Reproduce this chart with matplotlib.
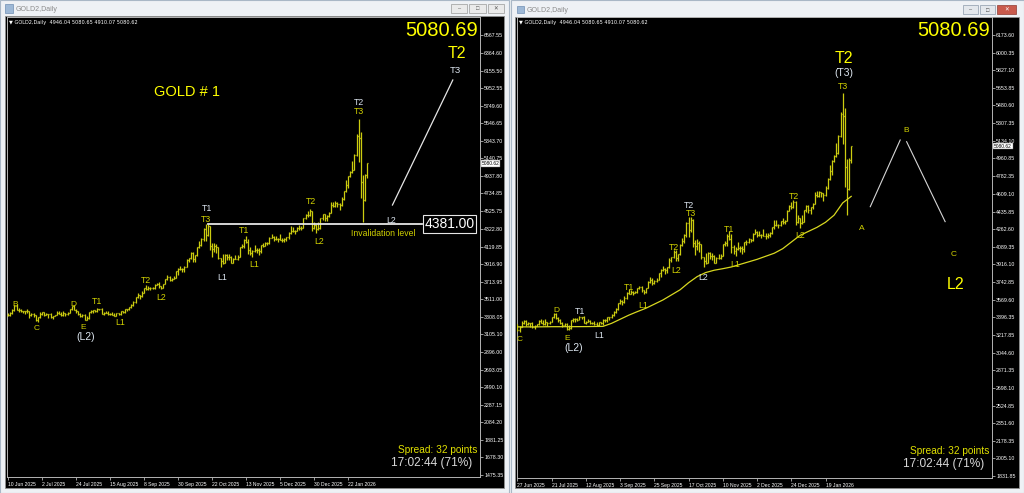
import numpy as np
import matplotlib
matplotlib.use('Agg')
import matplotlib.pyplot as plt
from matplotlib.patches import Rectangle
import matplotlib.transforms as mtrans

plt.rcParams['font.family'] = ['Liberation Sans', 'DejaVu Sans']

# ---------------- data (daily bars, 10 Jun 2025 .. 4 Feb 2026) ----------------
opens = [3326, 3322, 3355, 3386, 3432, 3385, 3388, 3370, 3370, 3368,
         3368, 3323, 3333, 3328, 3274, 3303, 3338, 3357, 3326, 3336,
         3336, 3301, 3313, 3324, 3355, 3343, 3324, 3347, 3339, 3350,
         3397, 3431, 3387, 3368, 3337, 3314, 3326, 3275, 3289, 3363,
         3373, 3381, 3369, 3397, 3398, 3342, 3348, 3356, 3335, 3336,
         3332, 3316, 3348, 3338, 3371, 3365, 3393, 3396, 3416, 3448,
         3476, 3533, 3559, 3545, 3586, 3636, 3626, 3640, 3634, 3643,
         3679, 3690, 3659, 3644, 3685, 3746, 3764, 3736, 3749, 3760,
         3833, 3858, 3865, 3857, 3887, 3960, 3985, 4040, 3975, 4017,
         4110, 4142, 4208, 4326, 4250, 4356, 4125, 4095, 4126, 4112,
         3987, 3953, 3930, 4025, 4002, 4000, 3932, 3980, 3977, 4001,
         4115, 4127, 4195, 4170, 4085, 4045, 4067, 4078, 4077, 4065,
         4135, 4131, 4164, 4156, 4218, 4232, 4205, 4202, 4208, 4198,
         4190, 4208, 4229, 4280, 4300, 4305, 4303, 4339, 4332, 4339,
         4445, 4490, 4480, 4532, 4332, 4370, 4320, 4330, 4450, 4495,
         4455, 4478, 4510, 4597, 4587, 4625, 4615, 4595, 4670, 4760,
         4835, 4935, 4985, 5010, 5180, 5400, 5380, 4870, 4660, 4946.04]
highs = [3349, 3360, 3398, 3446, 3451, 3403, 3398, 3379, 3374, 3398,
         3372, 3347, 3350, 3329, 3309, 3358, 3365, 3366, 3345, 3343,
         3346, 3317, 3331, 3369, 3375, 3366, 3377, 3352, 3361, 3402,
         3433, 3439, 3394, 3374, 3345, 3334, 3334, 3315, 3363, 3385,
         3390, 3385, 3409, 3400, 3404, 3358, 3374, 3369, 3346, 3358,
         3345, 3350, 3351, 3379, 3376, 3393, 3398, 3423, 3454, 3490,
         3540, 3578, 3563, 3600, 3641, 3674, 3659, 3650, 3655, 3685,
         3703, 3707, 3667, 3687, 3749, 3791, 3779, 3761, 3783, 3834,
         3871, 3895, 3875, 3889, 3977, 3990, 4059, 4059, 4022, 4116,
         4179, 4218, 4330, 4379, 4381, 4359, 4160, 4161, 4147, 4112,
         3990, 4030, 4034, 4034, 4030, 4012, 3990, 4020, 4020, 4117,
         4149, 4212, 4245, 4211, 4110, 4082, 4132, 4100, 4098, 4140,
         4156, 4175, 4170, 4225, 4264, 4240, 4240, 4216, 4260, 4220,
         4220, 4235, 4286, 4353, 4350, 4315, 4345, 4370, 4355, 4450,
         4497, 4526, 4550, 4535, 4400, 4375, 4402, 4455, 4500, 4500,
         4480, 4518, 4630, 4635, 4642, 4630, 4620, 4690, 4765, 4890,
         4940, 4990, 5110, 5190, 5420, 5600, 5450, 4950, 4960, 5080.65]
lows = [3315, 3316, 3339, 3378, 3381, 3366, 3362, 3347, 3340, 3347,
        3295, 3312, 3308, 3255, 3247, 3298, 3328, 3311, 3323, 3296,
        3287, 3282, 3310, 3322, 3341, 3321, 3319, 3310, 3332, 3345,
        3383, 3381, 3351, 3325, 3301, 3308, 3268, 3270, 3281, 3347,
        3353, 3358, 3366, 3381, 3341, 3331, 3345, 3331, 3330, 3323,
        3311, 3312, 3324, 3322, 3352, 3351, 3370, 3386, 3403, 3436,
        3470, 3527, 3511, 3533, 3578, 3620, 3620, 3613, 3632, 3632,
        3670, 3645, 3628, 3634, 3683, 3733, 3717, 3722, 3741, 3757,
        3793, 3850, 3820, 3830, 3884, 3939, 3980, 3945, 3944, 4008,
        4097, 4130, 4185, 4186, 4236, 4082, 4004, 4059, 4042, 3971,
        3886, 3916, 3929, 3967, 3962, 3930, 3928, 3970, 3968, 3995,
        4100, 4100, 4156, 4032, 4020, 3997, 4055, 4040, 4022, 4040,
        4110, 4125, 4140, 4148, 4213, 4180, 4190, 4175, 4195, 4170,
        4175, 4180, 4210, 4265, 4290, 4270, 4295, 4310, 4310, 4338,
        4440, 4460, 4475, 4305, 4320, 4275, 4312, 4328, 4430, 4420,
        4410, 4460, 4505, 4575, 4580, 4580, 4540, 4590, 4660, 4745,
        4800, 4920, 4970, 5000, 5170, 5100, 4680, 4403, 4650, 4910.07]
closes = [3322, 3355, 3386, 3432, 3385, 3388, 3370, 3370, 3368, 3368,
          3323, 3333, 3328, 3274, 3303, 3338, 3357, 3326, 3336, 3336,
          3301, 3313, 3324, 3355, 3343, 3324, 3347, 3339, 3350, 3397,
          3431, 3387, 3368, 3337, 3314, 3326, 3275, 3289, 3363, 3373,
          3381, 3369, 3397, 3398, 3342, 3348, 3356, 3335, 3336, 3332,
          3316, 3348, 3338, 3371, 3365, 3393, 3396, 3416, 3448, 3476,
          3533, 3559, 3545, 3586, 3636, 3626, 3640, 3634, 3643, 3679,
          3690, 3659, 3644, 3685, 3746, 3764, 3736, 3749, 3760, 3833,
          3858, 3865, 3857, 3887, 3960, 3985, 4040, 3975, 4017, 4110,
          4142, 4208, 4326, 4250, 4356, 4125, 4095, 4126, 4112, 3987,
          3953, 3930, 4025, 4002, 4000, 3932, 3980, 3977, 4001, 4115,
          4127, 4195, 4170, 4085, 4045, 4067, 4078, 4077, 4065, 4135,
          4131, 4164, 4156, 4218, 4232, 4205, 4202, 4208, 4198, 4190,
          4208, 4229, 4280, 4300, 4305, 4303, 4339, 4332, 4339, 4445,
          4490, 4480, 4532, 4332, 4370, 4320, 4330, 4450, 4495, 4455,
          4478, 4510, 4597, 4587, 4625, 4615, 4595, 4670, 4760, 4835,
          4935, 4985, 5010, 5180, 5400, 5380, 4870, 4660, 4946, 5080.62]

# moving average shown on the right chart
ma_idx = [13, 21, 29, 37, 45, 53, 57, 61, 65, 69, 73, 77, 81, 85, 89, 93, 97,
          101, 105, 109, 113, 117, 121, 125, 129, 133, 137, 141, 145, 149,
          153, 157, 161, 165, 169]
ma_val = [3300, 3300, 3302, 3302, 3303, 3305, 3335, 3375, 3415, 3450, 3483,
          3524, 3565, 3615, 3665, 3735, 3795, 3835, 3858, 3873, 3890, 3915,
          3940, 3965, 3995, 4025, 4070, 4135, 4200, 4240, 4280, 4330, 4400,
          4520, 4585]

left_xtick_idx = [0, 16, 32, 48, 64, 80, 96, 112, 128, 144, 160]
left_xtick_lbl = ['10 Jun 2025', '2 Jul 2025', '24 Jul 2025', '15 Aug 2025',
                  '8 Sep 2025', '30 Sep 2025', '22 Oct 2025', '13 Nov 2025',
                  '5 Dec 2025', '30 Dec 2025', '22 Jan 2026']
right_xtick_idx = [13, 29, 45, 61, 77, 93, 109, 125, 141, 157]
right_xtick_lbl = ['27 Jun 2025', '21 Jul 2025', '12 Aug 2025', '3 Sep 2025',
                   '25 Sep 2025', '17 Oct 2025', '10 Nov 2025', '2 Dec 2025',
                   '24 Dec 2025', '19 Jan 2026']
left_yticks = [6567.55, 6364.60, 6155.50, 5952.55, 5749.60, 5546.65, 5343.70,
               5140.75, 4937.80, 4734.85, 4525.75, 4322.80, 4119.85, 3916.90,
               3713.95, 3511.00, 3308.05, 3105.10, 2896.00, 2693.05, 2490.10,
               2287.15, 2084.20, 1881.25, 1678.30, 1475.35]
right_yticks = [6173.60, 6000.35, 5827.10, 5653.85, 5480.60, 5307.35, 5134.10,
                4960.85, 4782.35, 4609.10, 4435.85, 4262.60, 4089.35, 3916.10,
                3742.85, 3569.60, 3396.35, 3217.85, 3044.60, 2871.35, 2698.10,
                2524.85, 2351.60, 2178.35, 2005.10, 1831.85]

bid_price = '5080.69'
last_close = 5080.62
header = 'GOLD2,Daily  4946.04 5080.65 4910.07 5080.62'
invalidation = 4381.00
invalidation_start = 94

# projected paths (bar index, price)
left_proj_x = [180.9, 209.3]
left_proj_y = [4600, 6047]
right_proj_x = [[177.9, 191.9], [194.9, 212.9]]
right_proj_y = [[4483, 5140], [5123, 4336]]

Y = '#d2d200'
WT = '#dde6f0'
BY = '#ffff00'
left_labels = [
    ('B', 3.3, 3454, Y, 6), ('C', 13.5, 3173, Y, 6), ('D', 30.7, 3454, Y, 6),
    ('T1', 41.7, 3481, Y, 6.3), ('E', 35.4, 3185, Y, 6), ('(L2)', 36.7, 3076, WT, 7.5),
    ('L1', 52.7, 3243, Y, 6.3), ('T2', 64.9, 3732, Y, 6.3), ('L2', 71.8, 3532, Y, 6.3),
    ('T1', 93.5, 4562, WT, 6.3), ('T3', 93.0, 4438, Y, 6.3), ('L1', 100.8, 3763, WT, 6.3),
    ('T1', 111.2, 4303, Y, 6.3), ('L1', 115.9, 3906, Y, 6.3), ('T2', 142.4, 4638, Y, 6.3),
    ('L2', 146.2, 4175, Y, 6.3), ('T2', 165.1, 5784, WT, 6.3), ('T3', 165.3, 5688, Y, 6.3),
    ('L2', 180.2, 4426, WT, 6.3), ('Invalidation level', 176.6, 4273, Y, 6.2),
    ('T3', 210.3, 6157, WT, 6.8), ('T2', 211.0, 6359, BY, 11.5),
    ('GOLD # 1', 84.0, 5908, BY, 10.5),
]
right_labels = [
    ('C', 14.0, 3171, Y, 6), ('D', 31.1, 3459, Y, 6), ('T1', 42.1, 3450, WT, 6.3),
    ('E', 36.1, 3188, Y, 6), ('(L2)', 39.2, 3089, WT, 7.5), ('L1', 51.1, 3220, WT, 6.3),
    ('T1', 65.1, 3690, Y, 6.3), ('L1', 72.0, 3515, Y, 6.3), ('T2', 86.1, 4080, Y, 6.3),
    ('L2', 87.2, 3860, Y, 6.3), ('T2', 93.1, 4493, WT, 6.3), ('T3', 94.2, 4418, Y, 6.3),
    ('L2', 100.0, 3788, WT, 6.3), ('T1', 112.1, 4254, Y, 6.3), ('L1', 114.8, 3916, Y, 6.3),
    ('T2', 142.2, 4582, Y, 6.3), ('L2', 144.9, 4195, Y, 6.3), ('T3', 165.1, 5671, Y, 6.3),
    ('(T3)', 165.6, 5800, WT, 7.5), ('T2', 165.6, 5947, BY, 11.5),
    ('A', 174.0, 4271, Y, 6), ('B', 194.9, 5238, Y, 6), ('C', 216.8, 4011, Y, 6),
    ('L2', 217.7, 3715, BY, 11.5),
]

# ---------------- figure ----------------
W, H = 1024, 493
fig = plt.figure(figsize=(W / 100, H / 100), dpi=100)
fig.patch.set_facecolor('#e9edf1')


def box(x0, y0, x1, y1, fc, ec='none', lw=0.0, z=-5):
    fig.add_artist(Rectangle((x0 / W, 1 - y1 / H), (x1 - x0) / W, (y1 - y0) / H,
                             transform=fig.transFigure, facecolor=fc,
                             edgecolor=ec, linewidth=lw, zorder=z))


# window frames
box(0, 0, 509, 493, '#eef1f5', ec='#a9b7c6', lw=0.8, z=-6)
box(511, 0, 1024, 493, '#eef1f5', ec='#a9b7c6', lw=0.8, z=-6)
# icons and titles
box(5, 4, 13, 13, '#9db8d6', ec='#6f8fb3', lw=0.5, z=-4)
box(517, 6, 524, 13, '#9db8d6', ec='#6f8fb3', lw=0.5, z=-4)
fig.text(16 / W, 1 - 9.5 / H, 'GOLD2,Daily', fontsize=5, color='#8a8a8a', va='center')
fig.text(527 / W, 1 - 10 / H, 'GOLD2,Daily', fontsize=5, color='#8a8a8a', va='center')
# buttons
for (x0, x1) in [(451, 467), (469, 486), (488, 504)]:
    box(x0, 4, x1, 13, '#eaeaea', ec='#9a9a9a', lw=0.5, z=-4)
for (x0, x1) in [(963, 978), (980, 995)]:
    box(x0, 5, x1, 14, '#e3e7ec', ec='#8c9aab', lw=0.5, z=-4)
box(997, 5, 1016, 14, '#c95a4c', ec='#8e3a30', lw=0.5, z=-4)
fig.text(459 / W, 1 - 9 / H, '–', fontsize=4, color='#555555', ha='center', va='center')
fig.text(477.5 / W, 1 - 9 / H, '□', fontsize=4, color='#555555', ha='center', va='center')
fig.text(496 / W, 1 - 9 / H, '✕', fontsize=4, color='#555555', ha='center', va='center',
         family=['DejaVu Sans'])
fig.text(970.5 / W, 1 - 10 / H, '–', fontsize=4, color='#444444', ha='center', va='center')
fig.text(987.5 / W, 1 - 10 / H, '□', fontsize=4, color='#444444', ha='center', va='center')
fig.text(1006.5 / W, 1 - 10 / H, '✕', fontsize=4, color='white', ha='center', va='center',
         family=['DejaVu Sans'])

# black chart areas
box(5, 16, 504, 488, 'black', ec='#8f8f8f', lw=0.6, z=-3)
box(515, 17, 1019, 488, 'black', ec='#8f8f8f', lw=0.6, z=-3)

BAR = '#cccc10'
n = len(closes)
xi = np.arange(n)


def setup(ax, xlim, ylim, yt, xt, xl):
    ax.set_facecolor('black')
    ax.set_xlim(*xlim)
    ax.set_ylim(*ylim)
    for s in ax.spines.values():
        s.set_color('#b4b4b4')
        s.set_linewidth(0.7)
    ax.yaxis.tick_right()
    ax.set_yticks(yt)
    ax.set_yticklabels(['%.2f' % v for v in yt])
    ax.tick_params(axis='y', direction='out', length=2, width=0.6, color='#b4b4b4',
                   labelsize=3.8, labelcolor='white', pad=1)
    ax.set_xticks(xt)
    ax.set_xticklabels(xl, ha='left')
    ax.tick_params(axis='x', direction='out', length=2, width=0.6, color='#b4b4b4',
                   labelsize=3.6, labelcolor='white', pad=1.5)
    ax.vlines(xi, lows, highs, color=BAR, lw=0.9, zorder=3)
    ax.hlines(opens, xi - 0.45, xi, color=BAR, lw=0.9, zorder=3)
    ax.hlines(closes, xi, xi + 0.45, color=BAR, lw=0.9, zorder=3)
    tr = mtrans.blended_transform_factory(ax.transAxes, ax.transData)
    ax.text(1.004, last_close, '%.2f' % last_close, transform=tr, fontsize=3.5,
            color='black', va='center', ha='left', clip_on=False, zorder=6,
            bbox=dict(boxstyle='square,pad=0.15', fc='white', ec='#777777', lw=0.3))


# ---------------- left chart ----------------
axL = fig.add_axes([7 / W, 1 - 477 / H, (480 - 7) / W, (477 - 17) / H])
setup(axL, (-0.5, 222.1), (1452.3, 6775.9), left_yticks, left_xtick_idx, left_xtick_lbl)

axL.plot([invalidation_start, 194.8], [invalidation, invalidation], color='#e6e6e6',
         lw=1.3, zorder=4)
axL.text(207.7, invalidation, '%.2f' % invalidation, fontsize=10, color='white',
         ha='center', va='center', zorder=6,
         bbox=dict(boxstyle='square,pad=0.12', fc='black', ec='#e6e6e6', lw=0.8))
axL.plot(left_proj_x, left_proj_y, color='#e6e6e6', lw=0.9, zorder=4)
for t, x, y, c, s in left_labels:
    axL.text(x, y, t, color=c, fontsize=s, ha='center', va='center', zorder=5)

# ---------------- right chart ----------------
axR = fig.add_axes([517 / W, 1 - 478 / H, (992 - 517) / W, (478 - 17) / H])
setup(axR, (12.8, 234.8), (1812.3, 6350.8), right_yticks, right_xtick_idx, right_xtick_lbl)
axR.plot(ma_idx, ma_val, color='#d8d820', lw=0.9, zorder=4)
for px, py in zip(right_proj_x, right_proj_y):
    axR.plot(px, py, color='#d6d6d6', lw=0.8, zorder=4)
for t, x, y, c, s in right_labels:
    axR.text(x, y, t, color=c, fontsize=s, ha='center', va='center', zorder=5)

# common overlay texts
for ax, hx, tri in [(axL, 9, True), (axR, 519, True)]:
    ax.text(0.9955, 0.992, bid_price, transform=ax.transAxes, fontsize=14.5, color=BY,
            ha='right', va='top', zorder=6)
    ax.text(0.9937, 0.059, 'Spread: 32 points', transform=ax.transAxes, fontsize=7.3,
            color='#e0e000', ha='right', va='center', zorder=6)
    ax.text(0.984, 0.030, '17:02:44 (71%)', transform=ax.transAxes, fontsize=8.6,
            color='#d8d8d8', ha='right', va='center', zorder=6)
    fig.text(hx / W, 1 - 22.5 / H, ('▼ ' if tri else '') + header, fontsize=3.6,
             color='white', va='center', family=['DejaVu Sans'])

fig.savefig('out.png', dpi=100, facecolor=fig.get_facecolor())
